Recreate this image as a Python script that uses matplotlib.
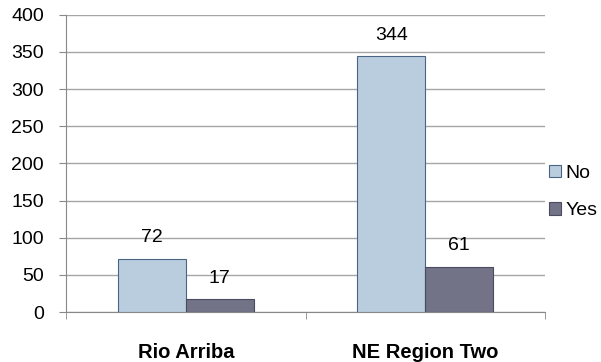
import matplotlib.pyplot as plt
import numpy as np

categories = ['Rio Arriba', 'NE Region Two']
no_vals = [72, 344]
yes_vals = [17, 61]
series_names = ['No', 'Yes']
yticks = [0, 50, 100, 150, 200, 250, 300, 350, 400]

plt.rcParams['font.family'] = ['Liberation Sans', 'DejaVu Sans']

fig = plt.figure(figsize=(6.01, 3.62), dpi=100)
ax = fig.add_axes([0.110, 0.138, 0.797, 0.821])

x = np.arange(len(categories))
w = 0.284
b1 = ax.bar(x - w / 2, no_vals, w, color='#B9CDDF', edgecolor='#4A6584', linewidth=0.8,
            label=series_names[0], zorder=3)
b2 = ax.bar(x + w / 2, yes_vals, w, color='#727387', edgecolor='#4A4A60', linewidth=0.8,
            label=series_names[1], zorder=3)

for bars in (b1, b2):
    for r in bars:
        ax.annotate(str(int(r.get_height())), (r.get_x() + r.get_width() / 2, r.get_height()),
                    xytext=(0, 9), textcoords='offset points', ha='center', va='bottom',
                    fontsize=14, zorder=4)

ax.set_xlim(-0.5, 1.5)
ax.set_ylim(0, 400)
ax.set_yticks(yticks)
ax.tick_params(axis='y', labelsize=14, length=5, color='#888888', pad=11)
ax.yaxis.grid(True, color='#A6A6A6', linewidth=1, zorder=0)

ax.set_xticks(x)
ax.set_xticklabels(categories, fontsize=14.5, fontweight='bold')
ax.tick_params(axis='x', length=0, pad=22)
ax.set_xticks([-0.5, 0.5, 1.5], minor=True)
ax.tick_params(axis='x', which='minor', length=5, color='#888888')

for s in ['top', 'right']:
    ax.spines[s].set_visible(False)
for s in ['left', 'bottom']:
    ax.spines[s].set_color('#888888')

ax.legend(loc='center left', bbox_to_anchor=(1.0, 0.404), frameon=False, fontsize=14,
          handlelength=0.6, handleheight=0.6, handletextpad=0.25, labelspacing=1.05,
          borderpad=0, borderaxespad=0.2)

fig.savefig('out.png', dpi=100)
